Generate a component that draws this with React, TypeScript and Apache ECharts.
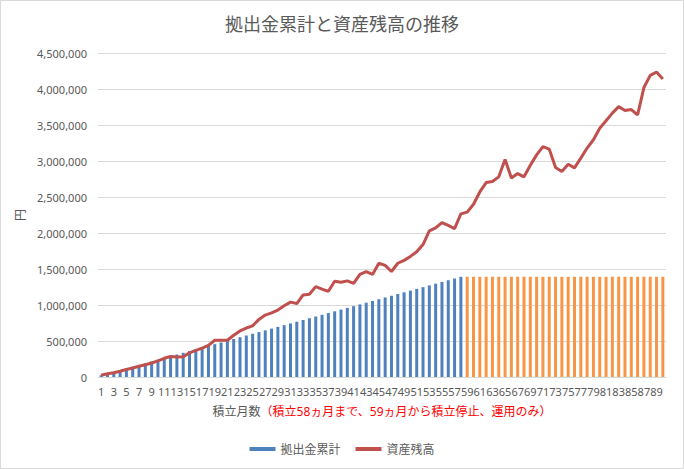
import React, { useEffect, useRef } from "react";
import * as echarts from "echarts";

const months: string[] = Array.from({ length: 90 }, (_, i) => String(i + 1));

const contributions: number[] = [
  24000, 48000, 72000, 96000, 120000, 144000, 168000, 192000, 216000, 240000,
  264000, 288000, 312000, 336000, 360000, 384000, 408000, 432000, 456000, 480000,
  504000, 528000, 552000, 576000, 600000, 624000, 648000, 672000, 696000, 720000,
  744000, 768000, 792000, 816000, 840000, 864000, 888000, 912000, 936000, 960000,
  984000, 1008000, 1032000, 1056000, 1080000, 1104000, 1128000, 1152000, 1176000, 1200000,
  1224000, 1248000, 1272000, 1296000, 1320000, 1344000, 1368000, 1392000, 1392000, 1392000,
  1392000, 1392000, 1392000, 1392000, 1392000, 1392000, 1392000, 1392000, 1392000, 1392000,
  1392000, 1392000, 1392000, 1392000, 1392000, 1392000, 1392000, 1392000, 1392000, 1392000,
  1392000, 1392000, 1392000, 1392000, 1392000, 1392000, 1392000, 1392000, 1392000, 1392000,
];

const assets: number[] = [
  24000, 45000, 60000, 80000, 105000, 125000, 150000, 170000, 195000, 225000,
  260000, 285000, 278000, 280000, 335000, 370000, 400000, 440000, 510000, 512000,
  510000, 580000, 640000, 680000, 710000, 800000, 860000, 890000, 930000, 990000,
  1040000, 1020000, 1140000, 1150000, 1255000, 1220000, 1190000, 1330000, 1315000, 1335000,
  1300000, 1425000, 1465000, 1425000, 1580000, 1550000, 1465000, 1580000, 1620000, 1675000,
  1740000, 1840000, 2030000, 2070000, 2145000, 2105000, 2060000, 2265000, 2290000, 2400000,
  2570000, 2700000, 2715000, 2780000, 3020000, 2765000, 2825000, 2780000, 2940000, 3085000,
  3200000, 3165000, 2910000, 2855000, 2955000, 2905000, 3040000, 3180000, 3295000, 3455000,
  3560000, 3665000, 3755000, 3700000, 3715000, 3640000, 4020000, 4190000, 4235000, 4140000,
];

const contributionMonths = 58;

const TEXT = "#595959";
const GRID = "#d9d9d9";
const FONT = "'Noto Sans', 'Noto Sans CJK JP', sans-serif";

export default function App() {
  const ref = useRef<HTMLDivElement>(null);

  useEffect(() => {
    document.body.style.margin = "0";
    if (!ref.current) return;
    const chart = echarts.init(ref.current, undefined, { renderer: "svg" });
    chart.setOption({
      animation: false,
      backgroundColor: "#ffffff",
      textStyle: { fontFamily: FONT },
      title: {
        text: "拠出金累計と資産残高の推移",
        left: "center",
        top: 10,
        textStyle: { fontSize: 18, fontWeight: "normal", color: TEXT, fontFamily: FONT },
      },
      graphic: [
        {
          type: "rect",
          shape: { x: 0.5, y: 0.5, width: 683, height: 468 },
          style: { fill: "none", stroke: GRID, lineWidth: 1 },
          silent: true,
        },
      ],
      legend: {
        bottom: 9,
        left: "center",
        itemWidth: 26,
        itemHeight: 4,
        itemGap: 15,
        textStyle: { fontSize: 12, color: TEXT, fontFamily: FONT },
        data: [
          { name: "拠出金累計", icon: "rect", itemStyle: { color: "#4F81BD" } },
          { name: "資産残高", icon: "rect", itemStyle: { color: "#C0504D" } },
        ],
      },
      grid: { left: 98, right: 18, top: 53, bottom: 92 },
      xAxis: {
        type: "category",
        data: months,
        boundaryGap: true,
        axisLine: { lineStyle: { color: GRID } },
        axisTick: { show: false },
        axisLabel: { interval: 1, color: TEXT, fontSize: 11, margin: 9, fontFamily: FONT },
        name: "{a|積立月数}{b|（積立58ヵ月まで、59ヵ月から積立停止、運用のみ）}",
        nameLocation: "middle",
        nameGap: 28,
        nameTextStyle: {
          fontSize: 12,
          rich: {
            a: { color: TEXT, fontSize: 12, fontFamily: FONT },
            b: { color: "#FF0000", fontSize: 12, fontFamily: FONT },
          },
        },
      },
      yAxis: {
        type: "value",
        min: 0,
        max: 4500000,
        interval: 500000,
        axisLine: { show: false },
        axisTick: { show: false },
        splitLine: { lineStyle: { color: GRID } },
        axisLabel: {
          color: TEXT,
          fontSize: 11,
          margin: 11,
          fontFamily: FONT,
          formatter: (v: number) => v.toLocaleString("en-US"),
        },
        name: "円",
        nameLocation: "middle",
        nameRotate: 90,
        nameGap: 67,
        nameTextStyle: { color: TEXT, fontSize: 12, fontFamily: FONT },
      },
      series: [
        {
          name: "拠出金累計",
          type: "bar",
          data: contributions,
          barWidth: 3,
          itemStyle: {
            color: (p: any) => (p.dataIndex < contributionMonths ? "#4F81BD" : "#F79646"),
          },
        },
        {
          name: "資産残高",
          type: "line",
          data: assets,
          symbol: "none",
          lineStyle: { color: "#C0504D", width: 3 },
          itemStyle: { color: "#C0504D" },
        },
      ],
    });
    return () => chart.dispose();
  }, []);

  return <div ref={ref} style={{ width: 684, height: 469 }} />;
}
